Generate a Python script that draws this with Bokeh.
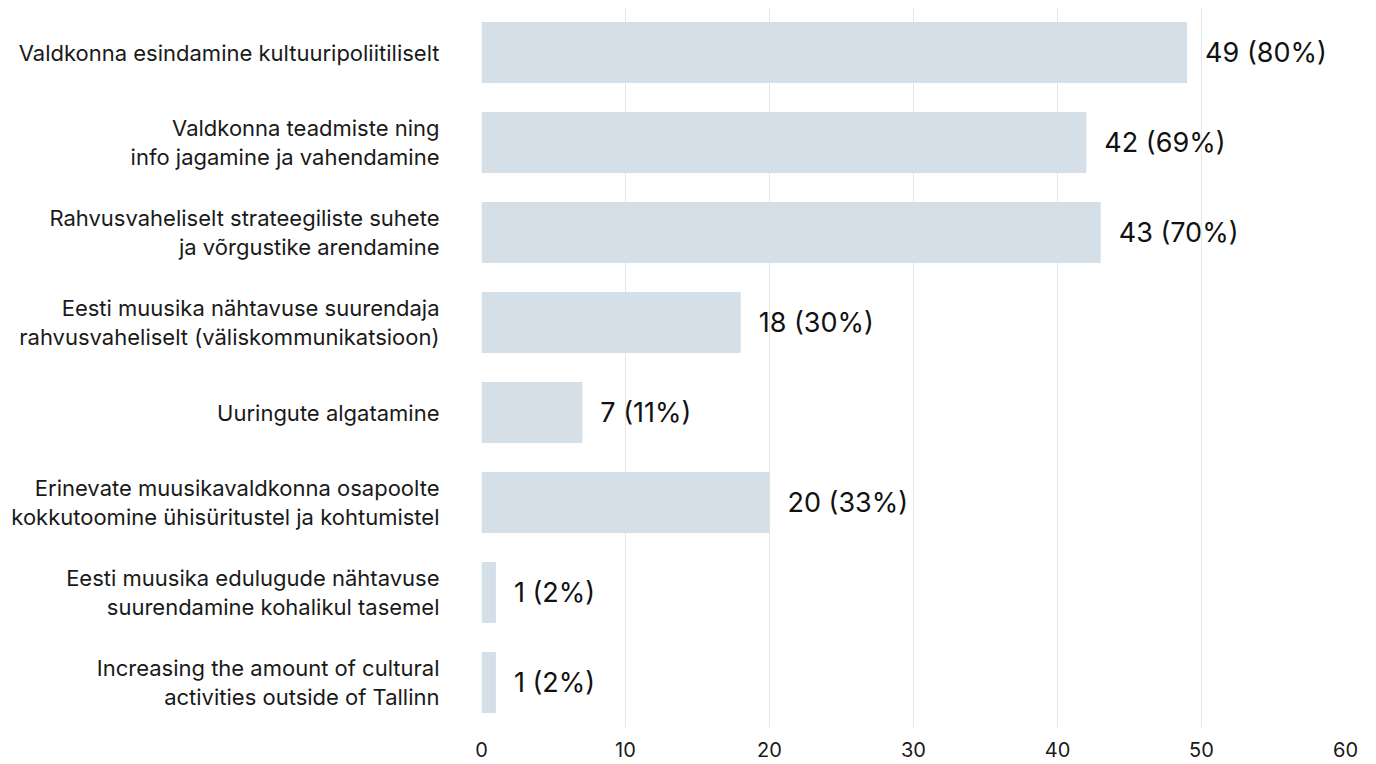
from bokeh.plotting import figure
from bokeh.models import ColumnDataSource, FactorRange, Range1d, FixedTicker
from bokeh.core.properties import value
from bokeh.embed import file_html
from bokeh.resources import INLINE

categories = [
    "Valdkonna esindamine kultuuripoliitiliselt",
    "Valdkonna teadmiste ning\ninfo jagamine ja vahendamine",
    "Rahvusvaheliselt strateegiliste suhete\nja võrgustike arendamine",
    "Eesti muusika nähtavuse suurendaja\nrahvusvaheliselt (väliskommunikatsioon)",
    "Uuringute algatamine",
    "Erinevate muusikavaldkonna osapoolte\nkokkutoomine ühisüritustel ja kohtumistel",
    "Eesti muusika edulugude nähtavuse\nsuurendamine kohalikul tasemel",
    "Increasing the amount of cultural\nactivities outside of Tallinn",
]
counts = [49, 42, 43, 18, 7, 20, 1, 1]
percents = [80, 69, 70, 30, 11, 33, 2, 2]
x_ticks = [0, 10, 20, 30, 40, 50, 60]

labels = [f"{c} ({p}%)" for c, p in zip(counts, percents)]
src = ColumnDataSource(dict(cat=categories, count=counts, label=labels))

FONT = "Inter"

p = figure(
    width=1360, height=764,
    y_range=FactorRange(factors=list(reversed(categories)), range_padding=0),
    x_range=Range1d(0, 60),
    output_backend="svg", toolbar_location=None,
    min_border_left=481, min_border_right=15, min_border_top=7, min_border_bottom=37,
)
p.outline_line_color = None
p.background_fill_color = "white"
p.border_fill_color = "white"

p.hbar(y="cat", right="count", left=0, height=0.68, source=src,
       fill_color="#d5dfe8", line_color=None)

p.text(x="count", y="cat", text="label", source=src, x_offset=18,
       text_align="left", text_baseline="middle",
       text_font=value(FONT), text_font_size="27px", text_font_style="normal",
       text_color="#111111")

p.yaxis.axis_line_color = None
p.yaxis.major_tick_line_color = None
p.yaxis.minor_tick_line_color = None
p.yaxis.major_tick_out = 0
p.yaxis.major_label_standoff = 42
p.yaxis.major_label_text_font = FONT
p.yaxis.major_label_text_font_size = "22px"
p.yaxis.major_label_text_color = "#1a1a1a"
p.yaxis.major_label_text_line_height = 1.15

p.ygrid.grid_line_color = None
p.xgrid.grid_line_color = "#e6e6e6"
p.xgrid.ticker = FixedTicker(ticks=x_ticks)
p.xaxis.ticker = FixedTicker(ticks=x_ticks)
p.xaxis.axis_line_color = None
p.xaxis.major_tick_line_color = None
p.xaxis.minor_tick_line_color = None
p.xaxis.major_tick_out = 0
p.xaxis.major_label_standoff = 14
p.xaxis.major_label_text_font = FONT
p.xaxis.major_label_text_font_size = "20px"
p.xaxis.major_label_text_color = "#1a1a1a"

open("out.html", "w").write(file_html(p, INLINE))
